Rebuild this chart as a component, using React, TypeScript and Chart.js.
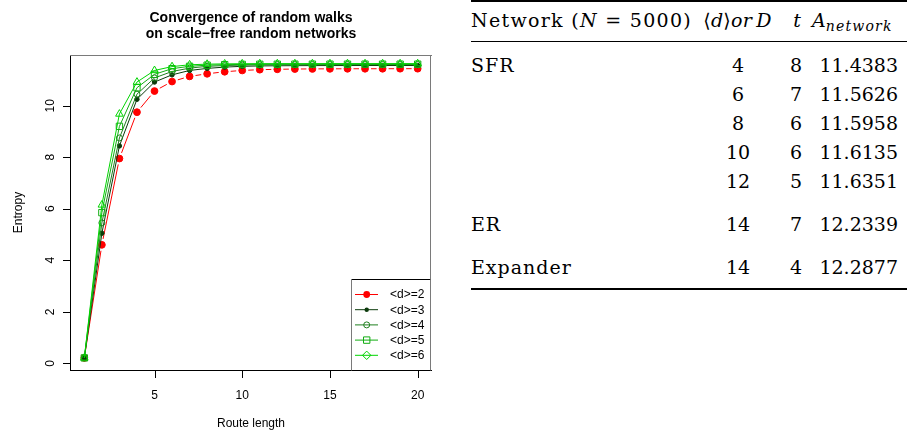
import { useEffect, useRef } from "react";
import { Chart, registerables } from "chart.js";

Chart.register(...registerables);

// ---- walk entropy data ----
const routeLength = [1, 2, 3, 4, 5, 6, 7, 8, 9, 10, 11, 12, 13, 14, 15, 16, 17, 18, 19, 20];

const entropyD2 = [0.21, 4.6, 7.95, 9.75, 10.57, 10.94, 11.14, 11.24, 11.32, 11.37, 11.4, 11.415, 11.425, 11.43, 11.433, 11.435, 11.436, 11.437, 11.438, 11.4383];
const entropyD3 = [0.21, 5.05, 8.44, 10.25, 10.92, 11.2, 11.37, 11.45, 11.5, 11.53, 11.545, 11.552, 11.556, 11.559, 11.56, 11.561, 11.562, 11.562, 11.5625, 11.5626];
const entropyD4 = [0.21, 5.45, 8.75, 10.45, 11.08, 11.33, 11.46, 11.53, 11.56, 11.577, 11.586, 11.59, 11.593, 11.594, 11.595, 11.5955, 11.5957, 11.5958, 11.5958, 11.5958];
const entropyD5 = [0.21, 5.85, 9.2, 10.7, 11.22, 11.44, 11.53, 11.575, 11.595, 11.604, 11.609, 11.611, 11.612, 11.613, 11.613, 11.6133, 11.6134, 11.6135, 11.6135, 11.6135];
const entropyD6 = [0.21, 6.15, 9.68, 10.92, 11.37, 11.52, 11.59, 11.615, 11.626, 11.631, 11.633, 11.634, 11.6345, 11.635, 11.635, 11.635, 11.6351, 11.6351, 11.6351, 11.6351];

const seriesLabels = ["<d>=2", "<d>=3", "<d>=4", "<d>=5", "<d>=6"];

const xTicks = [5, 10, 15, 20];
const yTicks = [0, 2, 4, 6, 8, 10];

const chartTitle = ["Convergence of random walks", "on scale\u2212free random networks"];
const xTitle = "Route length";
const yTitle = "Entropy";

// ---- summary table ----
const networkCol = ["SFR", "", "", "", "", "ER", "Expander"];
const degreeCol = ["4", "6", "8", "10", "12", "14", "14"];
const stepsCol = ["8", "7", "6", "6", "5", "7", "4"];
const areaCol = ["11.4383", "11.5626", "11.5958", "11.6135", "11.6351", "12.2339", "12.2877"];

const SANS = '"Liberation Sans", Arial, Helvetica, sans-serif';
const SERIF = '"DejaVu Serif", serif';

type Marker = "dot" | "smalldot" | "circle" | "square" | "triangle" | "diamond";

const seriesStyle: { color: string; marker: Marker; legendMarker: Marker; gapped: boolean }[] = [
  { color: "#ff0000", marker: "dot", legendMarker: "dot", gapped: true },
  { color: "#0b3a0b", marker: "smalldot", legendMarker: "smalldot", gapped: false },
  { color: "#1f7f1f", marker: "circle", legendMarker: "circle", gapped: false },
  { color: "#12ad12", marker: "square", legendMarker: "square", gapped: false },
  { color: "#00d400", marker: "triangle", legendMarker: "diamond", gapped: false },
];

const GAP = 6; // space left around each point on "both" style lines

function drawMarker(ctx: CanvasRenderingContext2D, kind: Marker, x: number, y: number, color: string) {
  ctx.save();
  ctx.fillStyle = color;
  ctx.strokeStyle = color;
  ctx.lineWidth = 1;
  ctx.beginPath();
  if (kind === "dot") {
    ctx.arc(x, y, 3.4, 0, Math.PI * 2);
    ctx.fill();
  } else if (kind === "smalldot") {
    ctx.arc(x, y, 2.2, 0, Math.PI * 2);
    ctx.fill();
  } else if (kind === "circle") {
    ctx.arc(x, y, 3, 0, Math.PI * 2);
    ctx.stroke();
  } else if (kind === "square") {
    ctx.rect(x - 3.2, y - 3.2, 6.4, 6.4);
    ctx.stroke();
  } else if (kind === "triangle") {
    ctx.moveTo(x, y - 4.4);
    ctx.lineTo(x + 3.8, y + 2.2);
    ctx.lineTo(x - 3.8, y + 2.2);
    ctx.closePath();
    ctx.stroke();
  } else {
    ctx.moveTo(x, y - 4.2);
    ctx.lineTo(x + 4.2, y);
    ctx.lineTo(x, y + 4.2);
    ctx.lineTo(x - 4.2, y);
    ctx.closePath();
    ctx.stroke();
  }
  ctx.restore();
}

// Box, tick marks, labels, titles and legend in the style of base R graphics.
const rFrame = {
  id: "rFrame",
  afterDraw(chart: any) {
    const { ctx, chartArea: a } = chart;
    const xs = chart.scales.x;
    const ys = chart.scales.y;
    ctx.save();
    ctx.lineWidth = 1;

    // plot box
    ctx.strokeStyle = "#000";
    ctx.beginPath();
    ctx.moveTo(a.left - 0.5, a.top);
    ctx.lineTo(a.left - 0.5, a.bottom + 1);
    ctx.moveTo(a.left - 1, a.bottom + 0.5);
    ctx.lineTo(a.right + 1, a.bottom + 0.5);
    ctx.stroke();
    ctx.strokeStyle = "#7a7a7a";
    ctx.beginPath();
    ctx.moveTo(a.left - 1, a.top + 0.5);
    ctx.lineTo(a.right + 1, a.top + 0.5);
    ctx.moveTo(a.right - 0.5, a.top);
    ctx.lineTo(a.right - 0.5, a.bottom);
    ctx.stroke();

    // x axis ticks
    ctx.strokeStyle = "#000";
    ctx.fillStyle = "#000";
    ctx.font = `12px ${SANS}`;
    ctx.textAlign = "center";
    ctx.textBaseline = "alphabetic";
    for (const v of xTicks) {
      const px = xs.getPixelForValue(v);
      const cx = Math.round(px) + 0.5;
      ctx.beginPath();
      ctx.moveTo(cx, a.bottom);
      ctx.lineTo(cx, a.bottom + 8);
      ctx.stroke();
      ctx.fillText(String(v), px, a.bottom + 28.5);
    }

    // y axis ticks, labels turned parallel to the axis
    for (const v of yTicks) {
      const py = ys.getPixelForValue(v);
      const cy = Math.round(py) + 0.5;
      ctx.beginPath();
      ctx.moveTo(a.left - 8, cy);
      ctx.lineTo(a.left, cy);
      ctx.stroke();
      ctx.save();
      ctx.translate(a.left - 17, py);
      ctx.rotate(-Math.PI / 2);
      ctx.fillText(String(v), 0, 0);
      ctx.restore();
    }

    // axis titles
    const midX = (a.left + a.right) / 2;
    ctx.fillText(xTitle, midX, 427);
    ctx.save();
    ctx.translate(22, (a.top + a.bottom) / 2);
    ctx.rotate(-Math.PI / 2);
    ctx.fillText(yTitle, 0, 0);
    ctx.restore();

    // main title
    ctx.font = `bold 14px ${SANS}`;
    ctx.fillText(chartTitle[0], midX, 21.5);
    ctx.fillText(chartTitle[1], midX, 38);

    // legend
    const box = { l: 351.5, t: 279.5, r: a.right - 0.5, b: a.bottom + 0.5 };
    ctx.fillStyle = "#fff";
    ctx.fillRect(box.l, box.t, box.r - box.l, box.b - box.t);
    ctx.strokeStyle = "#000";
    ctx.beginPath();
    ctx.moveTo(box.l, box.t);
    ctx.lineTo(box.r, box.t);
    ctx.stroke();
    ctx.strokeStyle = "#7a7a7a";
    ctx.beginPath();
    ctx.moveTo(box.l, box.t);
    ctx.lineTo(box.l, box.b);
    ctx.lineTo(box.r, box.b);
    ctx.lineTo(box.r, box.t);
    ctx.stroke();
    ctx.strokeStyle = "#000";
    ctx.beginPath();
    ctx.moveTo(box.l, box.b);
    ctx.lineTo(box.r, box.b);
    ctx.stroke();

    ctx.font = `12px ${SANS}`;
    ctx.textAlign = "left";
    ctx.textBaseline = "middle";
    seriesLabels.forEach((label, i) => {
      const st = seriesStyle[i];
      const ry = 294.5 + i * 15.2;
      ctx.strokeStyle = st.color;
      ctx.beginPath();
      ctx.moveTo(355, ry);
      ctx.lineTo(378, ry);
      ctx.stroke();
      drawMarker(ctx, st.legendMarker, 366.7, ry, st.color);
      ctx.fillStyle = "#000";
      ctx.fillText(label, 390, ry + 0.5);
    });

    ctx.restore();
  },
};

const allSeries = [entropyD2, entropyD3, entropyD4, entropyD5, entropyD6];

function pointStyleFor(m: Marker) {
  if (m === "square") return "rect";
  if (m === "triangle") return "triangle";
  if (m === "diamond") return "rectRot";
  return "circle";
}

function radiusFor(m: Marker) {
  if (m === "dot") return 3.4;
  if (m === "smalldot") return 2.2;
  if (m === "circle") return 3;
  if (m === "square") return 4.5;
  return 4.4;
}

function EntropyChart() {
  const ref = useRef<HTMLCanvasElement | null>(null);

  useEffect(() => {
    if (!ref.current) return;
    const segLen = (c: any) => Math.hypot(c.p1.x - c.p0.x, c.p1.y - c.p0.y);
    const datasets = allSeries.map((values, i) => {
      const st = seriesStyle[i];
      const filled = st.marker === "dot" || st.marker === "smalldot";
      return {
        label: seriesLabels[i],
        data: routeLength.map((r, k) => ({ x: r, y: values[k] })),
        borderColor: st.color,
        borderWidth: 1,
        pointStyle: pointStyleFor(st.marker),
        pointRadius: radiusFor(st.marker),
        pointBorderWidth: 1,
        pointBorderColor: st.color,
        pointBackgroundColor: filled ? st.color : "rgba(0,0,0,0)",
        tension: 0,
        fill: false,
        order: allSeries.length - i,
        segment: st.gapped
          ? {
              borderDash: (c: any) => {
                const L = segLen(c);
                return [Math.max(L - 2 * GAP, 0), 2 * GAP];
              },
              borderDashOffset: (c: any) => segLen(c) - GAP,
            }
          : undefined,
      };
    });

    const chart = new Chart(ref.current, {
      type: "line",
      data: { datasets } as any,
      options: {
        animation: false,
        responsive: false,
        devicePixelRatio: 1,
        events: [],
        layout: { padding: { left: 71, top: 55, right: 19, bottom: 65 } },
        scales: {
          x: { type: "linear", min: 0.24, max: 20.76, display: false },
          y: { type: "linear", min: -0.26, max: 11.97, display: false },
        },
        plugins: { legend: { display: false }, title: { display: false }, tooltip: { enabled: false } },
      },
      plugins: [rFrame],
    });
    return () => chart.destroy();
  }, []);

  return (
    <canvas
      ref={ref}
      width={450}
      height={435}
      style={{ position: "absolute", left: 0, top: 0, width: 450, height: 435 }}
    />
  );
}

function Tx(props: {
  x: number;
  base: number;
  align?: "left" | "center" | "right";
  size?: number;
  italic?: boolean;
  spacing?: number;
  children: any;
}) {
  const { x, base, align = "left", size = 19, italic = false, spacing = 0, children } = props;
  const shift = align === "center" ? "-50%" : align === "right" ? "-100%" : "0";
  return (
    <div
      style={{
        position: "absolute",
        left: x,
        top: base - size * 0.846,
        fontSize: size,
        lineHeight: `${size}px`,
        fontFamily: SERIF,
        fontStyle: italic ? "italic" : "normal",
        letterSpacing: spacing,
        whiteSpace: "nowrap",
        transform: `translateX(${shift})`,
        color: "#000",
      }}
    >
      {children}
    </div>
  );
}

function Rule({ y, h }: { y: number; h: number }) {
  return <div style={{ position: "absolute", left: 471, width: 436, top: y, height: h, background: "#000" }} />;
}

function SummaryTable() {
  const rowBase = [71.7, 100.7, 129.7, 158.7, 187.7, 231, 274];
  return (
    <>
      <Rule y={0} h={2} />
      <Tx x={471} base={26.7} spacing={1.3}>
        Network (<i>N</i>&nbsp;=&nbsp;5000)
      </Tx>
      <Tx x={737.5} base={26.7} align="center" spacing={0.3}>
        {"\u27E8"}
        <i>d</i>
        {"\u27E9"}
        <i>or&thinsp;D</i>
      </Tx>
      <Tx x={797} base={26.7} align="center" italic>
        t
      </Tx>
      <Tx x={812} base={26.7} italic>
        A
        <span style={{ fontSize: 14, position: "relative", top: 4, letterSpacing: 1.2 }}>network</span>
      </Tx>
      <Rule y={40.5} h={1.4} />
      {rowBase.map((b, i) => (
        <div key={i}>
          {networkCol[i] && (
            <Tx x={471} base={b} spacing={1}>
              {networkCol[i]}
            </Tx>
          )}
          <Tx x={738} base={b} align="center">
            {degreeCol[i]}
          </Tx>
          <Tx x={802} base={b} align="right">
            {stepsCol[i]}
          </Tx>
          <Tx x={898} base={b} align="right">
            {areaCol[i]}
          </Tx>
        </div>
      ))}
      <Rule y={288} h={2} />
    </>
  );
}

export default function App() {
  return (
    <div
      style={{
        position: "absolute",
        left: 0,
        top: 0,
        width: 907,
        height: 435,
        background: "#fff",
        overflow: "hidden",
      }}
    >
      <EntropyChart />
      <SummaryTable />
    </div>
  );
}
